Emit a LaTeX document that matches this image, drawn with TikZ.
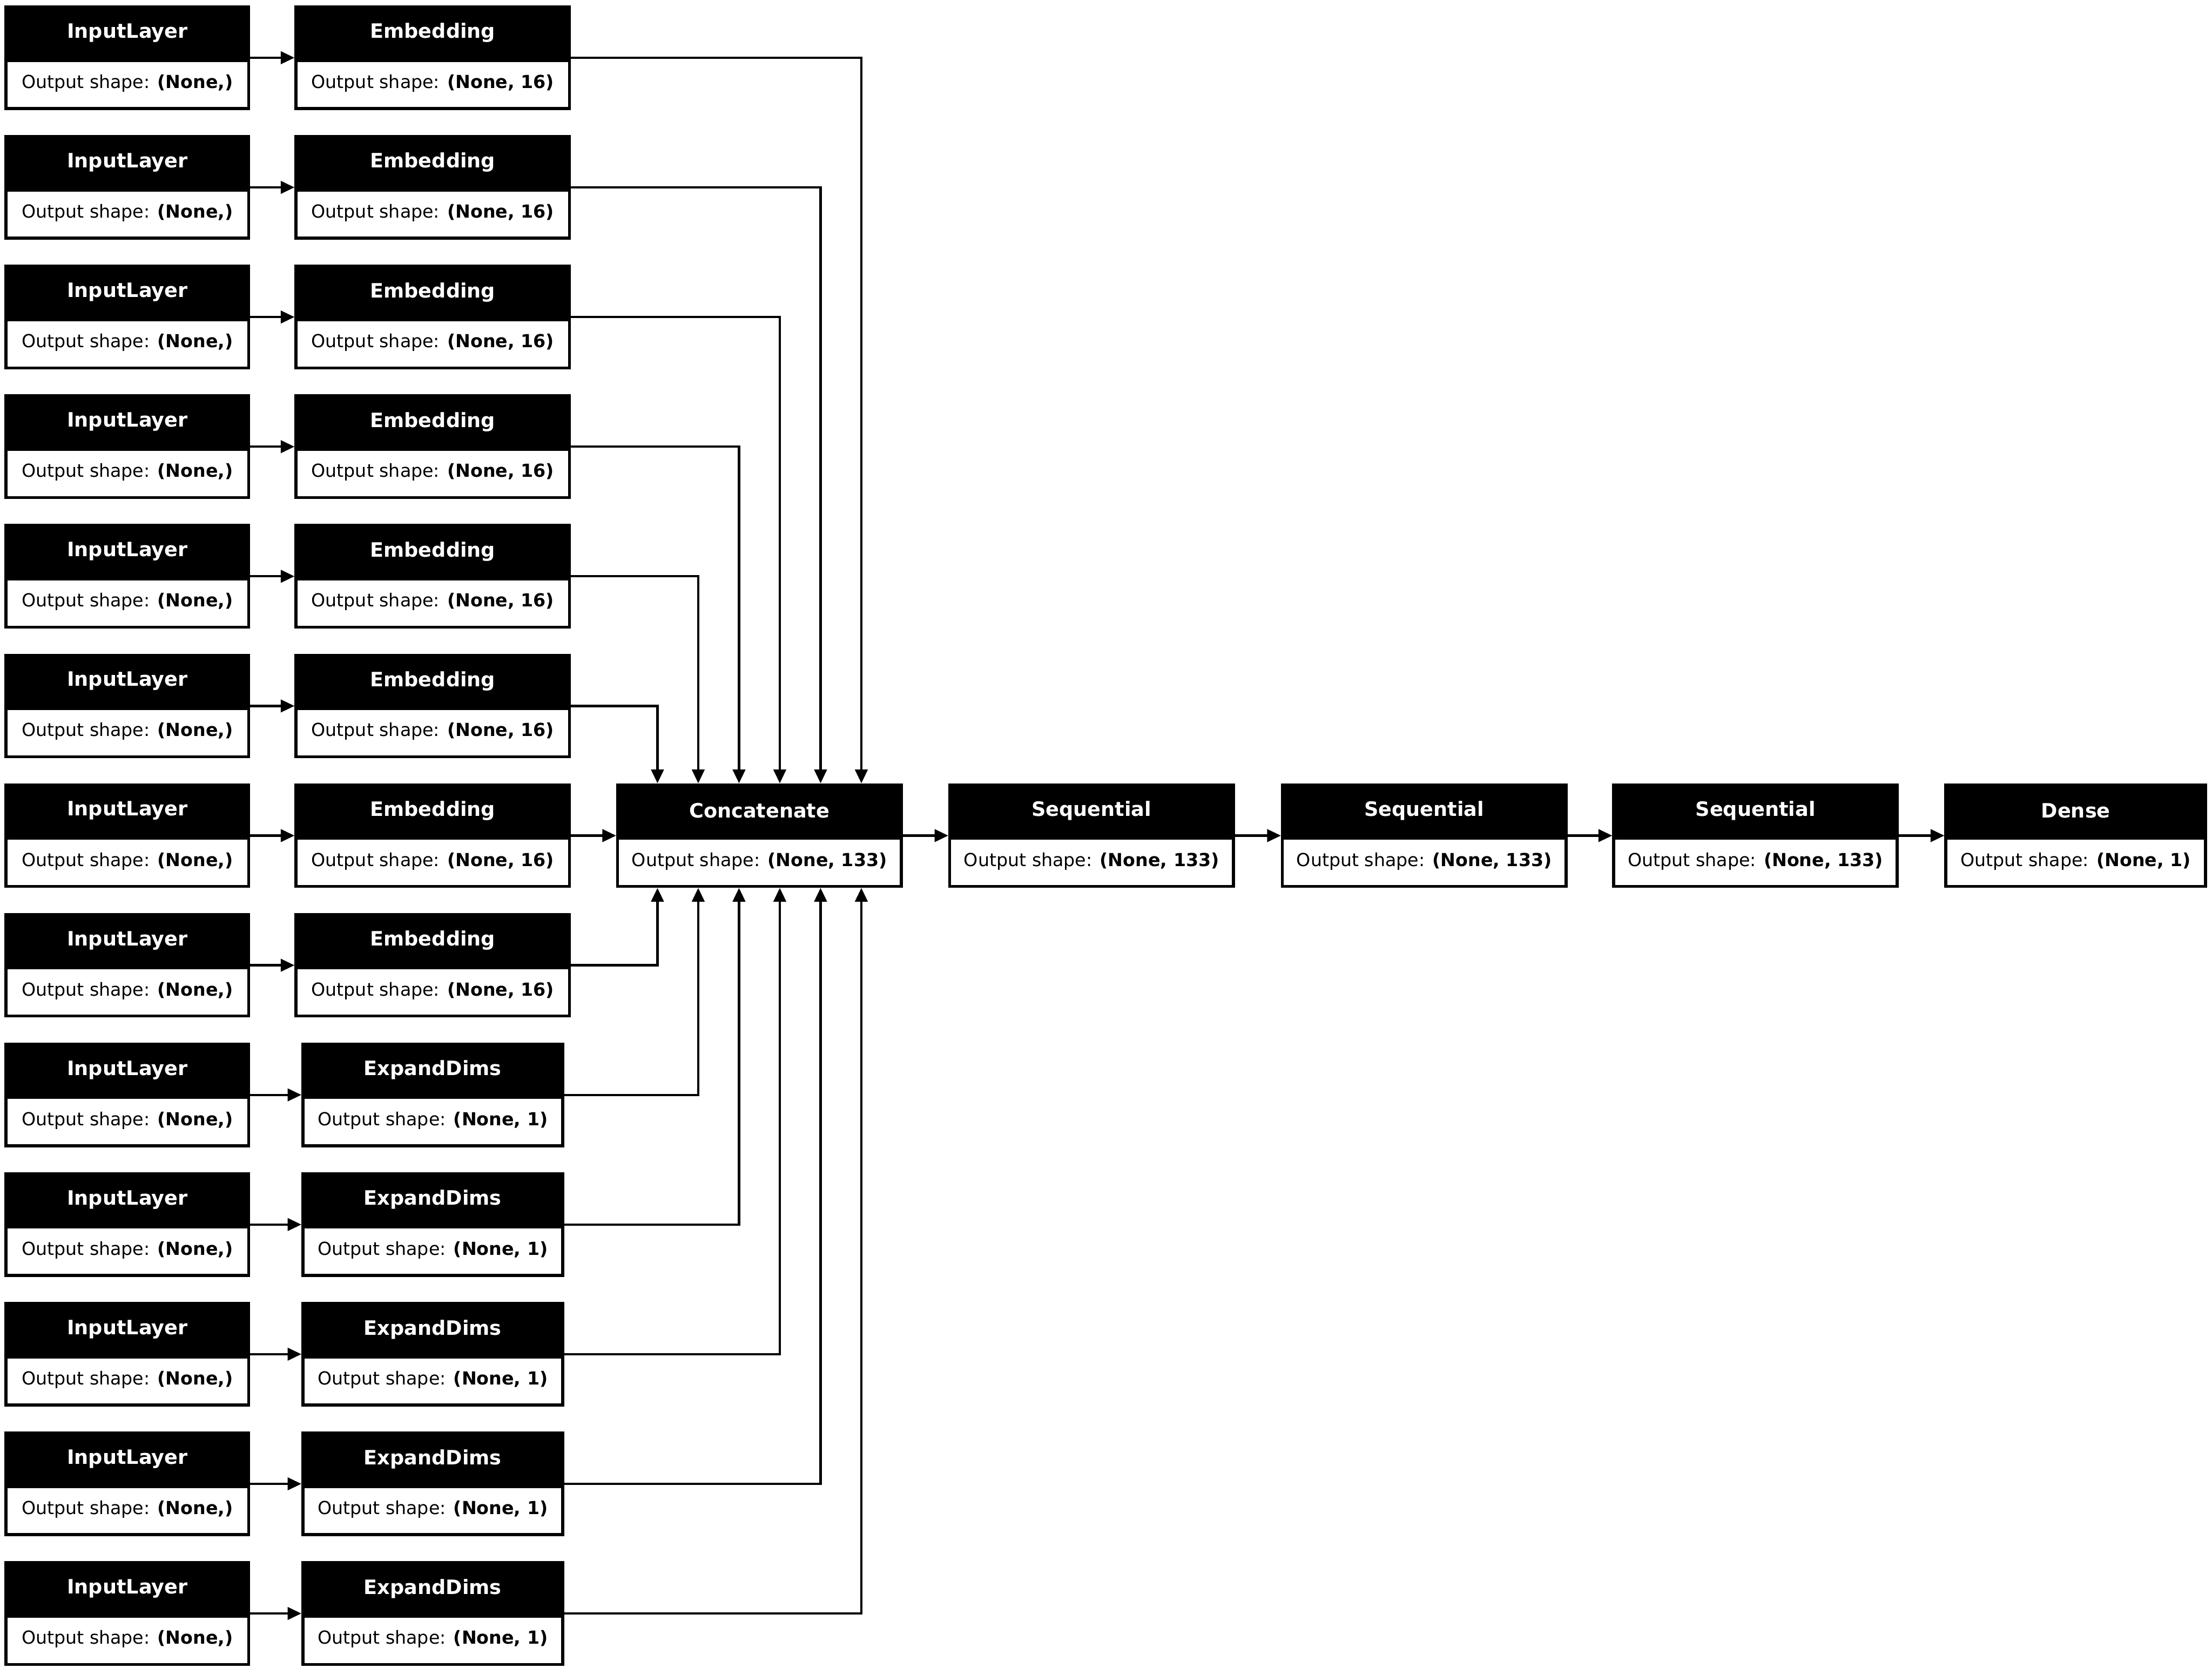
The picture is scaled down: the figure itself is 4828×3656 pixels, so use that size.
\documentclass[tikz,border=0pt]{standalone}
\usepackage{fontspec}
\setmainfont{DejaVu Sans}
\usetikzlibrary{arrows.meta,calc}
\tikzset{
  layerbox/.style={rectangle, draw=black, fill=white, line width=1.6pt, inner sep=0pt,
    minimum height=55.5pt,
    path picture={\fill[black] (path picture bounding box.north west) rectangle
      ([yshift=-30pt]path picture bounding box.north east);}},
  ttl/.style={text=white, font=\fontsize{10.8}{13}\selectfont\bfseries, inner sep=0pt},
  bdy/.style={text=black, font=\fontsize{9.8}{12}\selectfont, inner sep=0pt},
  arr/.style={draw=black, line width=1.25pt, -{Triangle[length=7.5pt,width=6.8pt]}}
}
% name, x1, x2, ytop, title, shape
\newcommand\lyr[6]{%
  \node[layerbox, minimum width={(#3-#2-6)*0.25pt}] (#1) at ({(#2+#3)/2},{#4+114}) {};
  \node[ttl] (#1t) at ($(#1.north)+(0,60)$) {#5};
  \node[bdy] (#1b) at ($(#1.north)+(0,170)$) {Output shape: \textbf{#6}};
}
\begin{document}
\begin{tikzpicture}[x=0.25pt,y=-0.25pt]
\useasboundingbox (0,0) rectangle (4828,3656);
\foreach \i in {0,...,12}{
  \pgfmathtruncatemacro\yt{12+283*\i}
  \lyr{in\i}{10}{546}{\yt}{InputLayer}{(None,)}
}
\foreach \i in {0,...,7}{
  \pgfmathtruncatemacro\yt{12+283*\i}
  \lyr{m\i}{643}{1246}{\yt}{Embedding}{(None, 16)}
}
\foreach \i in {8,...,12}{
  \pgfmathtruncatemacro\yt{12+283*\i}
  \lyr{m\i}{658}{1231}{\yt}{ExpandDims}{(None, 1)}
}
\lyr{cat}{1345}{1970}{1710}{Concatenate}{(None, 133)}
\lyr{s1}{2070}{2695}{1710}{Sequential}{(None, 133)}
\lyr{s2}{2796}{3421}{1710}{Sequential}{(None, 133)}
\lyr{s3}{3519}{4144}{1710}{Sequential}{(None, 133)}
\lyr{d}{4244}{4817}{1710}{Dense}{(None, 1)}

\foreach \i in {0,...,12}{
  \draw[arr] (in\i) -- (m\i);
}
\foreach \i in {0,...,5}{
  \pgfmathsetmacro\off{222.5-89*\i}
  \draw[arr] (m\i.east) -| ($(cat.north)+(\off,0)$);
}
\draw[arr] (m6) -- (cat);
\foreach \i in {7,...,12}{
  \pgfmathsetmacro\off{-222.5+89*(\i-7)}
  \draw[arr] (m\i.east) -| ($(cat.south)+(\off,0)$);
}
\draw[arr] (cat) -- (s1);
\draw[arr] (s1) -- (s2);
\draw[arr] (s2) -- (s3);
\draw[arr] (s3) -- (d);
\end{tikzpicture}
\end{document}
